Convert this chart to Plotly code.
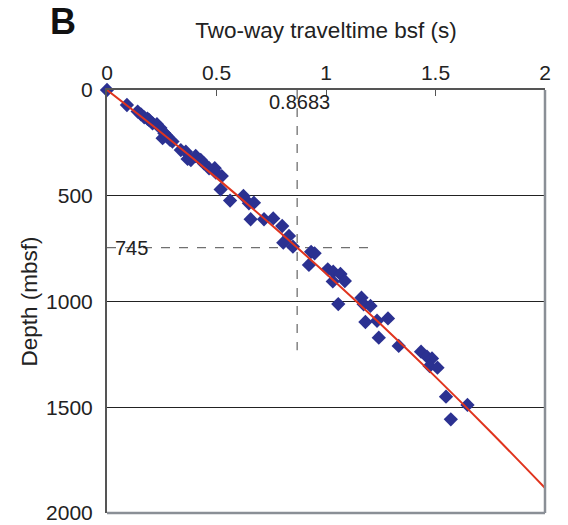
import plotly.graph_objects as go

# Data
twt = [0, 0.091, 0.14, 0.155, 0.17, 0.185, 0.193, 0.208, 0.228, 0.244, 0.254, 0.262,
       0.269, 0.276, 0.288, 0.299, 0.337, 0.36, 0.368, 0.383, 0.405, 0.428, 0.443,
       0.466, 0.492, 0.497, 0.524, 0.519, 0.562, 0.623, 0.648, 0.671, 0.656, 0.717,
       0.759, 0.8, 0.831, 0.805, 0.849, 0.922, 0.932, 0.948, 1.008, 1.033, 1.066,
       1.031, 1.086, 1.056, 1.162, 1.172, 1.203, 1.18, 1.233, 1.283, 1.241, 1.332,
       1.434, 1.461, 1.484, 1.473, 1.509, 1.548, 1.646, 1.570]
depth = [0, 71, 102, 115, 129, 136, 142, 158, 162, 180, 228, 205,
         213, 221, 236, 244, 284, 292, 326, 331, 312, 331, 347,
         370, 370, 391, 407, 470, 523, 501, 536, 533, 611, 611,
         607, 643, 690, 722, 741, 827, 765, 772, 848, 859, 870,
         905, 903, 1012, 982, 1013, 1021, 1097, 1091, 1080, 1171, 1210,
         1237, 1261, 1269, 1305, 1313, 1450, 1489, 1557]

fit_t = [0, 0.25, 0.5, 0.75, 1.0, 1.25, 1.5, 1.75, 2.0]
fit_d = [0, 203, 415.5, 637, 867.7, 1107.5, 1356.5, 1614.7, 1882]

ref_t = 0.8683
ref_d = 745
ref_vline_d = [0, 1230]
ref_hline_t = [0, 1.2]

x_ticks = [0, 0.5, 1, 1.5, 2]
x_labels = ["0", "0.5", "1", "1.5", "2"]
y_ticks = [0, 500, 1000, 1500, 2000]

FONT = "Liberation Sans, Arial, sans-serif"

fig = go.Figure()

fig.add_trace(go.Scatter(x=[ref_t, ref_t], y=ref_vline_d, mode="lines",
                         line=dict(color="#707070", width=1.3, dash="dash"),
                         hoverinfo="skip", showlegend=False))
fig.add_trace(go.Scatter(x=ref_hline_t, y=[ref_d, ref_d], mode="lines",
                         line=dict(color="#707070", width=1.3, dash="dash"),
                         hoverinfo="skip", showlegend=False))

fig.add_trace(go.Scatter(x=twt, y=depth, mode="markers",
                         marker=dict(symbol="diamond", size=11, color="#2B3191",
                                     line=dict(width=0)),
                         cliponaxis=False, showlegend=False))

fig.add_trace(go.Scatter(x=fit_t, y=fit_d, mode="lines", line_shape="spline",
                         line=dict(color="#E0341E", width=2),
                         cliponaxis=True, showlegend=False))

fig.add_annotation(x=0.877, y=57, text="0.8683", showarrow=False,
                   font=dict(size=20, color="#222", family=FONT))
fig.add_annotation(x=0.11, y=ref_d, text="745", showarrow=False,
                   font=dict(size=20, color="#222", family=FONT))

# B label
fig.add_annotation(xref="paper", yref="paper", x=-0.1, y=1.163, xanchor="center",
                   yanchor="middle", text="<b>B</b>", showarrow=False,
                   font=dict(size=36, color="#111", family=FONT))

# bottom and right borders in grey
fig.add_shape(type="line", xref="paper", yref="paper", x0=0, x1=1, y0=0, y1=0,
              line=dict(color="#8A8F96", width=2.5))
fig.add_shape(type="line", xref="paper", yref="paper", x0=1, x1=1, y0=0, y1=1,
              line=dict(color="#8A8F96", width=2.5))

fig.update_layout(
    width=568, height=525,
    margin=dict(l=107, r=23, t=90, b=12, autoexpand=False),
    plot_bgcolor="white", paper_bgcolor="white",
    font=dict(family=FONT, size=21, color="#222"),
    xaxis=dict(range=[0, 2], side="top", tickvals=x_ticks, ticktext=x_labels,
               showgrid=False, zeroline=False, automargin=False,
               showline=True, linecolor="#555", linewidth=1.5,
               ticks="inside", ticklen=6, tickcolor="#555",
               title=dict(text="Two-way traveltime bsf (s)", standoff=16,
                          font=dict(size=22.5))),
    yaxis=dict(range=[2000, 0], tickvals=y_ticks, automargin=False,
               ticklabeloverflow="allow",
               showgrid=True, gridcolor="#222", gridwidth=1,
               zeroline=False, showline=True, linecolor="#555", linewidth=2,
               ticks="", ticklabelstandoff=8,
               title=dict(text="Depth (mbsf)", standoff=2, font=dict(size=22.5))),
)

fig.write_html("out.html")
